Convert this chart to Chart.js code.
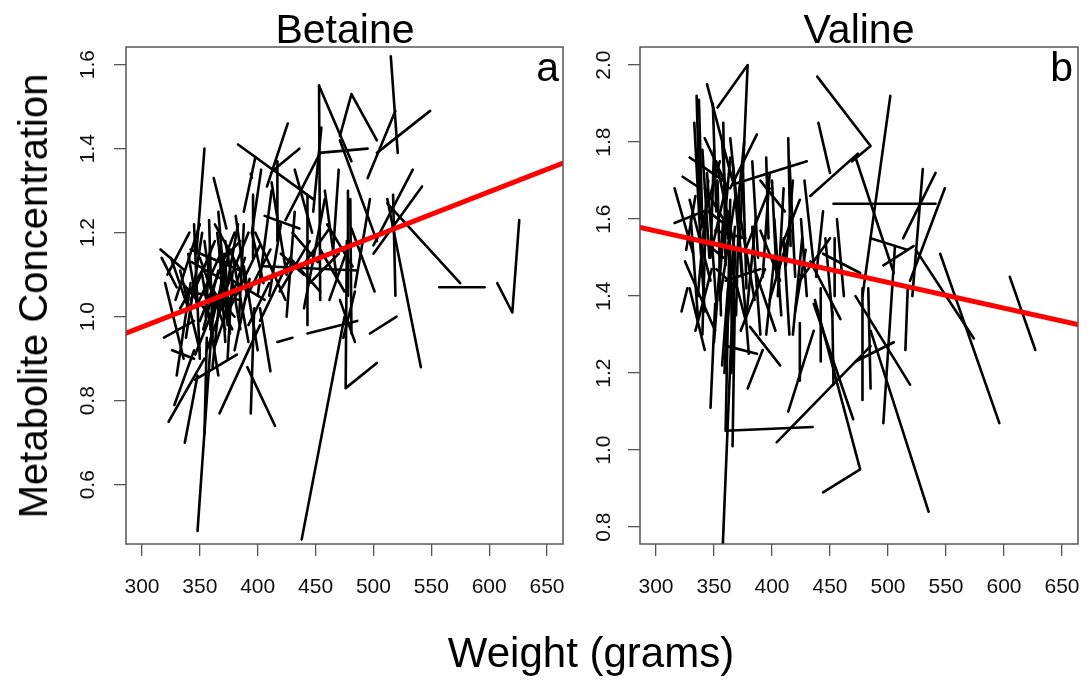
<!DOCTYPE html>
<html lang="en">
<head>
  <meta charset="UTF-8" />
  <title>Betaine and Valine vs Weight</title>
  <script src="https://cdn.jsdelivr.net/npm/chart.js"></script>
  <style>
    * { margin: 0; padding: 0; box-sizing: border-box; }
    body {
      width: 1091px; height: 681px; overflow: hidden;
      background: #fff; position: relative;
      font-family: 'Liberation Sans', Arial, sans-serif; color: #000;
    }
    canvas { position: absolute; top: 0; }
    #betaineChart { left: 0; }
    #valineChart { left: 580px; }
    .lbl { position: absolute; white-space: nowrap; line-height: 1; font-size: 41px; }
    .title { top: 9px; transform: translateX(-50%); }
    .panel { top: 47px; }
    #ylab { left: 33px; top: 296px; font-size: 40px; transform: translate(-50%, -50%) rotate(-90deg); }
    #xlab { left: 591px; top: 632px; font-size: 42px; transform: translateX(-50%); }
  </style>
</head>
<body>
  <canvas id="betaineChart" width="575" height="681"></canvas>
  <canvas id="valineChart" width="511" height="681"></canvas>

  <div class="lbl title" style="left:345px">Betaine</div>
  <div class="lbl title" style="left:859px">Valine</div>
  <div class="lbl panel" style="right:532px">a</div>
  <div class="lbl panel" style="right:18px">b</div>
  <div class="lbl" id="ylab">Metabolite Concentration</div>
  <div class="lbl" id="xlab">Weight (grams)</div>

  <script>
    // tick labels
    const weightTicks = [300, 350, 400, 450, 500, 550, 600, 650];
    const betaineTicks = [0.6, 0.8, 1.0, 1.2, 1.4, 1.6];
    const valineTicks = [0.8, 1.0, 1.2, 1.4, 1.6, 1.8, 2.0];

    // each animal: weights and concentrations at its time points
    const betaineWeight = [
      [515, 521], [471, 481, 503], [453, 495], [549, 503], [519, 495], [534, 500], [542, 500],
      [478, 478], [497, 484], [512, 541], [512, 575], [517, 519], [607, 620, 626], [557, 596],
      [477, 476, 503], [497, 520], [453, 454], [453, 481], [471, 503], [426, 408], [436, 414],
      [383, 448], [417, 417], [354, 347], [362, 373], [396, 396], [443, 443], [454, 424],
      [341, 322], [316, 337], [317, 330], [348, 362], [438, 475], [323, 354], [337, 348],
      [354, 356], [367, 402], [394, 397], [415, 391], [411, 402], [319, 345], [326, 345],
      [346, 382], [328, 345], [405, 486], [417, 430], [443, 486], [480, 481], [342, 363],
      [350, 380], [359, 376], [363, 389], [372, 367], [376, 402], [385, 372], [337, 385],
      [350, 372], [389, 411], [333, 354], [402, 428], [419, 445], [428, 454], [436, 462],
      [454, 475], [462, 480], [376, 406], [354, 361], [346, 372], [380, 393], [363, 385],
      [398, 424], [333, 350], [406, 436], [481, 501], [471, 484], [484, 474], [357, 378],
      [366, 353], [342, 385], [369, 392], [329, 350], [381, 390], [394, 395],
      [338, 352], [345, 350], [352, 366], [358, 361], [361, 371], [366, 374], [370, 383],
      [374, 378], [378, 392], [384, 388], [388, 400], [343, 375], [355, 359], [362, 380],
      [348, 368], [371, 365], [335, 360], [392, 410], [356, 372], [367, 385], [340, 348],
      [376, 372], [395, 405], [410, 420], [420, 440], [430, 452], [445, 470], [460, 482],
      [400, 412], [412, 425], [425, 432], [432, 447], [440, 458], [448, 455], [458, 468],
      [465, 470], [388, 398], [403, 395], [320, 336], [325, 340], [330, 342]
    ];
    const betaineConc = [
      [1.62, 1.39], [1.43, 1.53, 1.42], [1.39, 1.40], [1.49, 1.39], [1.49, 1.33], [1.35, 1.17], [1.31, 1.15],
      [1.30, 1.05], [1.28, 1.07], [1.28, 0.88], [1.27, 1.08], [1.29, 1.05], [1.08, 1.01, 1.23], [1.07, 1.07],
      [1.18, 0.83, 0.89], [0.96, 1.00], [1.55, 1.04], [1.55, 1.37], [1.42, 1.18], [1.46, 1.31], [1.40, 1.35],
      [1.41, 1.28], [1.37, 1.18], [1.40, 1.15], [1.33, 1.21], [1.29, 1.14], [1.29, 0.98], [1.39, 1.23],
      [1.20, 1.10], [1.16, 1.11], [1.14, 1.07], [0.49, 1.04], [0.47, 1.00], [0.75, 0.90], [0.70, 0.86],
      [0.72, 0.95], [0.77, 0.98], [0.77, 1.02], [0.74, 0.88], [0.87, 1.02], [0.95, 0.99], [0.92, 0.90],
      [0.85, 0.91], [0.79, 0.92], [1.12, 1.11], [0.94, 0.95], [0.96, 0.99], [1.28, 0.96], [1.04, 1.18],
      [0.99, 1.20], [0.97, 1.16], [0.93, 1.14], [0.94, 1.16], [1.02, 1.17], [0.97, 1.18], [1.06, 1.04],
      [1.14, 0.97], [1.04, 1.16], [1.02, 1.12], [0.99, 1.14], [1.06, 1.18], [1.14, 1.06], [1.11, 1.21],
      [1.16, 1.06], [1.04, 1.18], [1.09, 1.04], [1.18, 1.04], [0.91, 1.09], [0.92, 1.09], [1.22, 1.11],
      [1.20, 1.04], [1.11, 0.92], [1.24, 1.21], [1.21, 1.06], [1.04, 0.94], [1.06, 0.95], [1.09, 0.97],
      [1.11, 0.97], [1.16, 1.11], [1.04, 1.20], [1.04, 1.22], [1.24, 1.06], [1.34, 1.33],
      [0.95, 1.20], [1.22, 0.90], [1.10, 0.86], [1.23, 0.95], [0.88, 1.15], [1.25, 0.98], [1.02, 1.22],
      [0.90, 1.10], [1.15, 0.94], [1.00, 1.22], [1.12, 0.92], [1.13, 1.08], [1.00, 1.17], [1.06, 1.00],
      [1.03, 1.15], [1.06, 1.20], [1.08, 1.00], [0.98, 1.08], [0.92, 1.05], [1.13, 1.18], [1.15, 1.02],
      [0.96, 1.13], [1.20, 1.08], [1.05, 1.22], [1.15, 1.10], [1.20, 1.13], [1.08, 1.15], [1.22, 1.12],
      [1.05, 1.30], [1.32, 1.10], [1.00, 1.25], [1.35, 1.20], [1.02, 1.28], [1.25, 1.45], [1.30, 1.10],
      [1.15, 1.35], [1.25, 1.38], [1.35, 1.20], [1.08, 0.90], [1.14, 1.02], [0.86, 1.08]
    ];
    const betaineFit = [0.6545, 0.001071];   // intercept, slope

    const valineWeight = [
      [353, 379, 373], [344, 366], [337, 340], [439, 485, 469], [440, 450], [342, 362], [387, 364],
      [329, 358], [414, 416], [430, 366], [395, 397], [453, 541], [474, 433], [316, 341],
      [454, 454], [444, 476], [502, 478], [472, 505], [530, 521], [541, 513], [549, 519],
      [485, 517], [496, 522], [524, 574], [605, 627], [545, 596], [485, 535], [506, 496],
      [472, 519], [478, 478], [483, 485], [472, 505], [517, 515], [364, 360, 435], [357, 368],
      [366, 368], [404, 485], [437, 476, 444], [322, 327], [347, 351], [379, 392], [414, 436],
      [424, 424], [442, 442], [453, 452], [436, 470], [361, 387], [381, 407], [316, 332],
      [329, 347], [338, 355], [348, 360], [355, 368], [342, 338], [364, 377], [373, 385],
      [377, 398], [385, 403], [390, 407], [398, 416], [407, 424], [420, 429], [325, 351],
      [334, 348], [351, 377], [360, 390], [373, 394], [342, 364], [390, 411], [424, 450],
      [433, 459], [329, 342], [352, 368], [364, 373], [323, 338],
      [333, 340], [336, 345], [340, 343], [344, 352], [347, 350], [350, 358], [353, 356],
      [355, 364], [358, 360], [361, 368], [363, 366], [366, 374], [369, 372], [372, 380],
      [375, 378], [378, 386], [338, 358], [345, 362], [352, 370], [330, 336], [326, 334],
      [359, 363], [383, 390], [405, 410], [410, 415], [415, 420], [418, 426], [425, 430],
      [400, 404], [395, 402], [362, 357], [368, 365],
      [383, 388], [392, 398], [402, 408], [412, 418], [428, 436], [438, 444], [446, 452],
      [456, 462], [335, 338], [340, 346], [349, 352], [357, 362], [370, 376]
    ];
    const valineConc = [
      [1.89, 2.00, 1.59], [1.95, 1.70], [1.91, 1.58], [1.97, 1.79, 1.75], [1.85, 1.72], [1.81, 1.68], [1.82, 1.68],
      [1.76, 1.70], [1.81, 1.53], [1.75, 1.69], [1.76, 1.55], [1.64, 1.64], [1.77, 1.66], [1.59, 1.62],
      [1.55, 1.40], [1.51, 1.46], [1.92, 1.40], [1.76, 1.46], [1.73, 1.40], [1.72, 1.55], [1.68, 1.44],
      [1.55, 1.52], [1.48, 1.53], [1.52, 1.29], [1.45, 1.26], [1.51, 1.07], [1.31, 0.84], [1.53, 1.07],
      [1.40, 1.17], [1.42, 1.13], [1.42, 1.16], [1.23, 1.28], [1.42, 1.26], [1.65, 1.05, 1.06], [0.71, 1.52],
      [1.01, 1.39], [1.02, 1.27], [1.39, 0.95, 0.89], [1.36, 1.42], [1.11, 1.38], [1.16, 1.26], [1.10, 1.31],
      [1.18, 1.33], [1.23, 1.42], [1.17, 1.36], [1.38, 1.08], [1.27, 1.25], [1.32, 1.22], [1.68, 1.51],
      [1.65, 1.44], [1.57, 1.75], [1.52, 1.68], [1.39, 1.65], [1.36, 1.55], [1.49, 1.34], [1.60, 1.39],
      [1.52, 1.68], [1.47, 1.31], [1.57, 1.44], [1.39, 1.57], [1.52, 1.65], [1.36, 1.52], [1.49, 1.31],
      [1.31, 1.47], [1.57, 1.55], [1.44, 1.47], [1.31, 1.47], [1.68, 1.57], [1.70, 1.62], [1.44, 1.55],
      [1.49, 1.34], [1.42, 1.26], [1.75, 1.52], [1.81, 1.55], [1.71, 1.68],
      [1.85, 1.45], [1.40, 1.70], [1.30, 1.62], [1.72, 1.38], [1.50, 1.78], [1.28, 1.60], [1.70, 1.35],
      [1.45, 1.76], [1.85, 1.48], [1.30, 1.58], [1.62, 1.25], [1.75, 1.45], [1.35, 1.68], [1.55, 1.25],
      [1.72, 1.42], [1.35, 1.60], [1.55, 1.50], [1.62, 1.58], [1.47, 1.42], [1.60, 1.35], [1.52, 1.66],
      [1.20, 1.45], [1.58, 1.30], [1.40, 1.68], [1.55, 1.30], [1.75, 1.45], [1.30, 1.55], [1.60, 1.40],
      [1.70, 1.45], [1.30, 1.50], [1.42, 1.22], [1.50, 1.20],
      [1.75, 1.50], [1.45, 1.72], [1.60, 1.35], [1.48, 1.70], [1.70, 1.48], [1.45, 1.62], [1.55, 1.35],
      [1.60, 1.40], [1.92, 1.60], [1.78, 1.50], [1.90, 1.62], [1.80, 1.55], [1.62, 1.80]
    ];
    const valineFit = [1.769, -0.000667];

    const X_MIN = 286.2, X_MAX = 663.8;
    const FONT = "'Liberation Sans', Arial, sans-serif";

    const boxPlugin = {
      id: 'box',
      afterDatasetsDraw(chart) {
        const a = chart.chartArea, ctx = chart.ctx;
        ctx.save();
        ctx.strokeStyle = '#555';
        ctx.lineWidth = 1.5;
        ctx.strokeRect(a.left, a.top, a.right - a.left, a.bottom - a.top);
        ctx.restore();
      }
    };

    function buildDatasets(weights, concs, fit) {
      const common = { showLine: true, pointRadius: 0, clip: 0, tension: 0, fill: false,
                       borderCapStyle: 'round', borderJoinStyle: 'round' };
      const sets = [Object.assign({
        data: [X_MIN, X_MAX].map(w => ({ x: w, y: fit[0] + fit[1] * w })),
        borderColor: '#ff0000', borderWidth: 5, order: 0
      }, common)];
      weights.forEach((ws, i) => {
        sets.push(Object.assign({
          data: ws.map((w, j) => ({ x: w, y: concs[i][j] })),
          borderColor: '#000', borderWidth: 2.6, order: 1
        }, common));
      });
      return sets;
    }

    function makeChart(id, weights, concs, fit, yTicks, yMin, yMax, yWidth, padRight, yPad) {
      const grid = { display: true, drawOnChartArea: false, drawTicks: true, tickLength: 12,
                     color: '#555', lineWidth: 1.3 };
      return new Chart(document.getElementById(id), {
        type: 'scatter',
        data: { datasets: buildDatasets(weights, concs, fit) },
        options: {
          responsive: false,
          animation: false,
          devicePixelRatio: 1,
          layout: { padding: { left: 0, right: padRight, top: 47, bottom: 77 } },
          plugins: { legend: { display: false }, tooltip: { enabled: false } },
          scales: {
            x: {
              type: 'linear', min: X_MIN, max: X_MAX,
              afterBuildTicks: s => { s.ticks = weightTicks.map(v => ({ value: v })); },
              afterFit: s => { s.height = 60; s.paddingLeft = 0; s.paddingRight = 0; },
              grid: grid, border: { display: false },
              ticks: { color: '#111', font: { family: FONT, size: 21 }, padding: 19,
                       maxRotation: 0, callback: v => String(v) }
            },
            y: {
              type: 'linear', min: yMin, max: yMax,
              afterBuildTicks: s => { s.ticks = yTicks.map(v => ({ value: v })); },
              afterFit: s => { s.width = yWidth; s.paddingTop = 0; s.paddingBottom = 0; },
              grid: grid, border: { display: false },
              ticks: { color: '#111', font: { family: FONT, size: 21 }, padding: yPad,
                       minRotation: 90, crossAlign: 'center', callback: v => v.toFixed(1) }
            }
          }
        },
        plugins: [boxPlugin]
      });
    }

    makeChart('betaineChart', betaineWeight, betaineConc, betaineFit, betaineTicks, 0.459, 1.642, 126, 12, 11);
    makeChart('valineChart', valineWeight, valineConc, valineFit, valineTicks, 0.756, 2.047, 60, 13, 9);
  </script>
</body>
</html>
